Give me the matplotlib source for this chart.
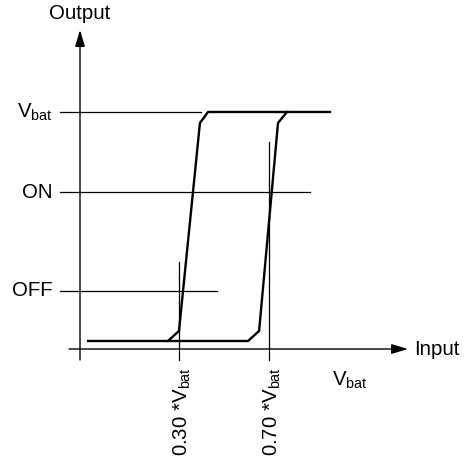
import matplotlib
matplotlib.use("Agg")
from matplotlib import pyplot as plt

plt.rcParams['font.family'] = ['Liberation Sans', 'DejaVu Sans']
plt.rcParams['mathtext.fontset'] = 'custom'
plt.rcParams['mathtext.rm'] = 'Liberation Sans'
plt.rcParams['mathtext.it'] = 'Liberation Sans'

# thresholds on the input axis (fraction of Vbat)
thresholds = [0.30, 0.70]
threshold_labels = [r'0.30 *V$_{\rm bat}$', r'0.70 *V$_{\rm bat}$']

# output levels (fraction of Vbat)
levels = [1.0, 0.65, 0.22]
level_labels = [r'V$_{\rm bat}$', 'ON', 'OFF']

# hysteresis curve: rising path (low -> high) and falling branch
rise_in = [-0.104, 0.607, 0.656, 0.740, 0.780, 0.971]
rise_out = [0.0, 0.0, 0.044, 0.952, 1.0, 1.0]
fall_in = [0.251, 0.300, 0.393, 0.429, 0.780]
fall_out = [0.0, 0.044, 0.952, 1.0, 1.0]

FS = 14.7


def main():
    fig = plt.figure(figsize=(4.66, 4.68), dpi=100)
    ax = fig.add_axes([0, 0, 1, 1])
    ax.set_xlim(-0.4956, 1.5756)
    ax.set_ylim(-0.5546, 1.489)
    ax.axis('off')

    # axes with arrows
    head = '-|>,head_length=1.0,head_width=0.3'
    ax.annotate('', xy=(-0.14, 1.358), xytext=(-0.14, -0.083),
                arrowprops=dict(arrowstyle=head, color='black', lw=1.0,
                                shrinkA=0, shrinkB=0))
    ax.annotate('', xy=(1.318, -0.035), xytext=(-0.189, -0.035),
                arrowprops=dict(arrowstyle=head, color='black', lw=1.0,
                                shrinkA=0, shrinkB=0))

    # output level lines
    level_ends = [0.396, 0.882, 0.469]
    for lv, lab, end in zip(levels, level_labels, level_ends):
        ax.plot([-0.229, end], [lv, lv], color='black', lw=0.9)
        ax.text(-0.262, lv, lab, ha='right', va='center', fontsize=FS)

    # threshold lines
    thr_tops = [0.345, 0.869]
    for th, lab, top in zip(thresholds, threshold_labels, thr_tops):
        ax.plot([th, th], [-0.083, top], color='black', lw=0.9)
        ax.text(th + 0.015, -0.115, lab, ha='center', va='top', rotation=90,
                fontsize=FS)

    # hysteresis curve
    ax.plot(rise_in, rise_out, color='black', lw=1.7, solid_joinstyle='miter')
    ax.plot(fall_in, fall_out, color='black', lw=1.7, solid_joinstyle='miter')

    ax.text(-0.14, 1.405, 'Output', ha='center', va='baseline', fontsize=FS)
    ax.text(1.345, -0.035, 'Input', ha='left', va='center', fontsize=FS)
    ax.text(0.98, -0.17, r'V$_{\rm bat}$', ha='left', va='center', fontsize=FS)

    fig.savefig('out.png', dpi=100)


if __name__ == "__main__":
    main()
